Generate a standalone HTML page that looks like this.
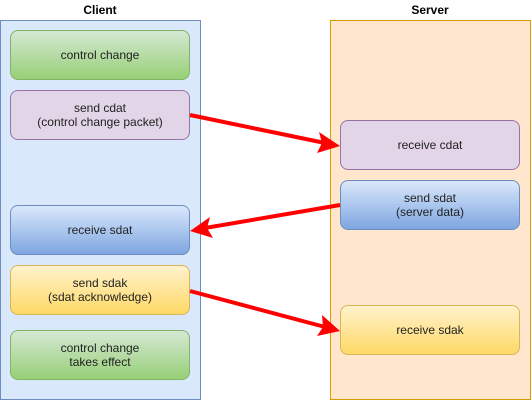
<!DOCTYPE html><html><head><style>
body{margin:0;width:531px;height:411px;background:#fff;font-family:"Liberation Sans",sans-serif;overflow:hidden}
.t{position:absolute;font-size:12px;font-weight:bold;text-align:center;width:200px}
.c{position:absolute;box-sizing:border-box}
.b{position:absolute;box-sizing:border-box;width:180px;height:50px;border-radius:8px;display:flex;align-items:center;justify-content:center;text-align:center;font-size:12px;color:#222;line-height:14px}
.g{background:linear-gradient(#d5e8d4,#97d077);border:1px solid #82b366}
.p{background:#e1d5e7;border:1px solid #9673a6}
.bl{background:linear-gradient(#dae8fc,#7ea6e0);border:1px solid #6c8ebf}
.y{background:linear-gradient(#fff2cc,#ffd966);border:1px solid #d6b656}
</style></head><body>
<div class="t" style="left:0;top:3px">Client</div>
<div class="t" style="left:330px;top:3px">Server</div>
<div class="c" style="left:0;top:20px;width:201px;height:380px;background:#dae8fc;border:1px solid #6c8ebf"></div>
<div class="c" style="left:330px;top:20px;width:201px;height:380px;background:#ffe6cc;border:1px solid #d79b00"></div>
<div class="b g" style="left:10px;top:30px">control change</div>
<div class="b p" style="left:10px;top:90px">send cdat<br>(control change packet)</div>
<div class="b bl" style="left:10px;top:205px">receive sdat</div>
<div class="b y" style="left:10px;top:265px">send sdak<br>(sdat acknowledge)</div>
<div class="b g" style="left:10px;top:330px">control change<br>takes effect</div>
<div class="b p" style="left:340px;top:120px">receive cdat</div>
<div class="b bl" style="left:340px;top:180px">send sdat<br>(server data)</div>
<div class="b y" style="left:340px;top:305px">receive sdak</div>
<svg width="531" height="411" style="position:absolute;left:0;top:0">
<g stroke="#f00" stroke-width="4" fill="#f00">
<line x1="190" y1="115" x2="325" y2="143"/>
<polygon stroke="none" points="340,146 317,153 322,143 319,132"/>
<line x1="340" y1="205" x2="205" y2="228"/>
<polygon stroke="none" points="190,231 210,217 207,228 213,238"/>
<line x1="190" y1="291" x2="325" y2="327"/>
<polygon stroke="none" points="340,331 317,336 323,327 322,315"/>
</g></svg>
</body></html>
